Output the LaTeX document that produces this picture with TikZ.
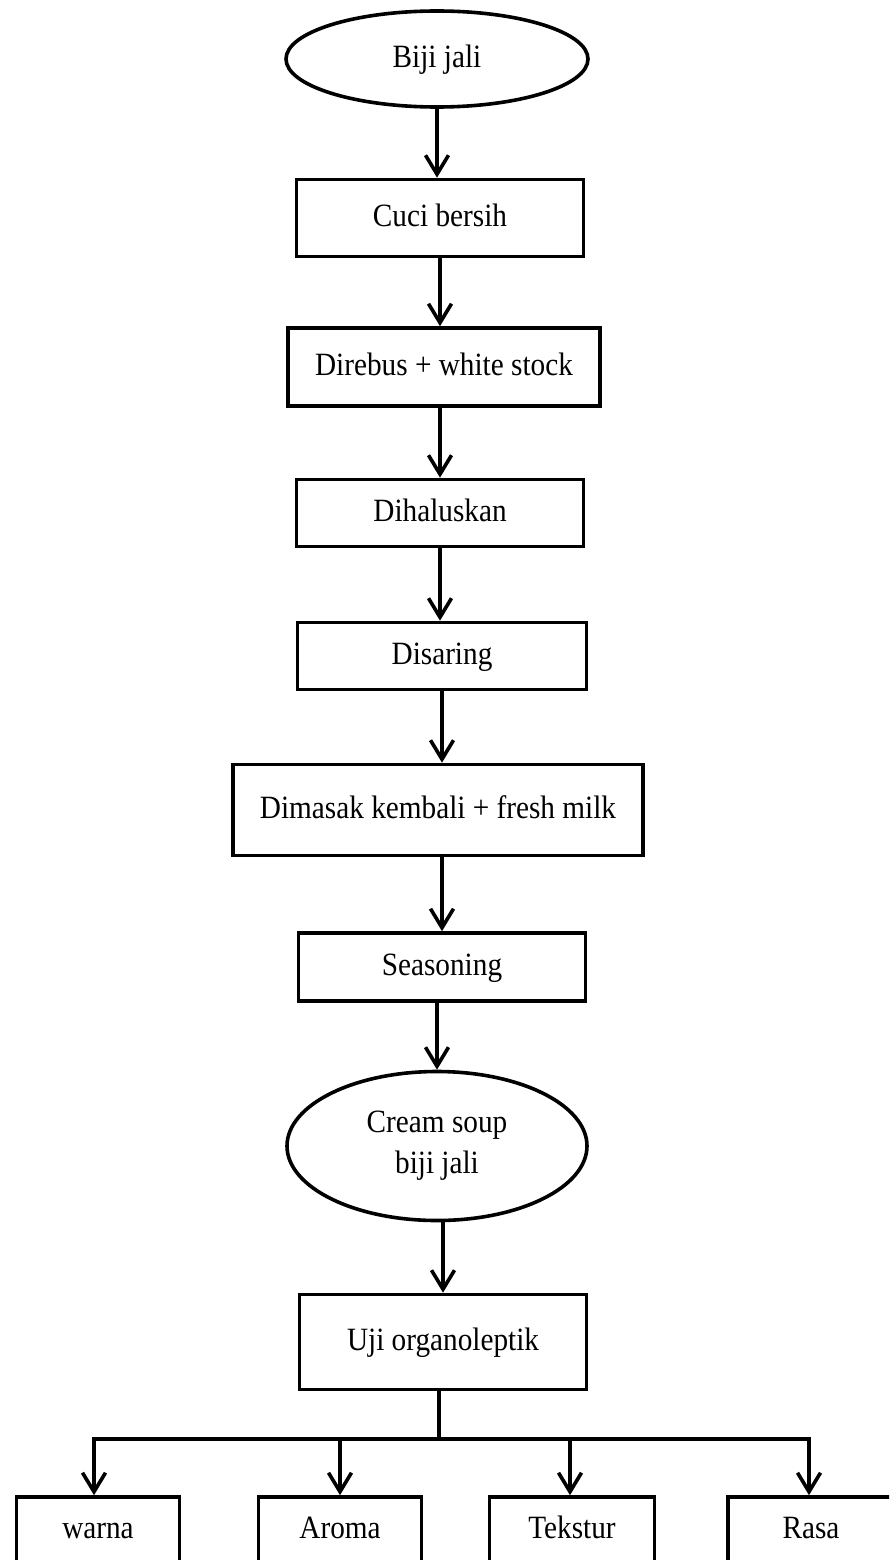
\documentclass[tikz,border=0pt]{standalone}
\usepackage{fontspec}
\setmainfont[FakeStretch=0.9]{Liberation Serif}
\usetikzlibrary{shapes.geometric,arrows.meta}
\begin{document}
\begin{tikzpicture}[x=1pt,y=-1pt,
  every node/.style={font=\fontsize{32.5}{41}\selectfont},
  one/.style={text height=23.4pt,text depth=7.2pt},
  boxn/.style={draw,line width=3.6pt,rectangle,inner sep=0pt,align=center,one},
  elln/.style={draw,line width=3.6pt,ellipse,inner sep=0pt,align=center},
  conn/.style={line width=3.6pt},
  arr/.style={line width=3.6pt,-{Straight Barb[length=19pt,width=23pt]}}]
\clip (0,0) rectangle (889,1560);
\node[elln,one,minimum width=302pt,minimum height=96pt] (e1) at (437,59) {Biji jali};
\node[boxn,minimum width=287pt,minimum height=77pt] (b1) at (440,218) {Cuci bersih};
\node[boxn,minimum width=312pt,minimum height=78pt] (b2) at (444,367) {Direbus + white stock};
\node[boxn,minimum width=287pt,minimum height=67pt] (b3) at (440,513) {Dihaluskan};
\node[boxn,minimum width=289pt,minimum height=67pt] (b4) at (442,656) {Disaring};
\node[boxn,minimum width=410pt,minimum height=91pt] (b5) at (438,810) {Dimasak kembali + fresh milk};
\node[boxn,minimum width=287pt,minimum height=68pt] (b6) at (442,967) {Seasoning};
\node[elln,minimum width=300pt,minimum height=149pt] (e2) at (437,1146) {Cream soup\\biji jali};
\node[boxn,minimum width=287pt,minimum height=95pt] (b7) at (443,1342) {Uji organoleptik};
\node[boxn,minimum width=163pt,minimum height=66pt] (c1) at (98,1530) {warna};
\node[boxn,minimum width=163pt,minimum height=66pt] (c2) at (340,1530) {Aroma};
\node[boxn,minimum width=165pt,minimum height=66pt] (c3) at (572,1530) {Tekstur};
\node[boxn,minimum width=166pt,minimum height=66pt] (c4) at (811,1530) {Rasa};

\draw[arr] (e1.south) -- (e1.south |- b1.north);
\draw[arr] (b1.south) -- (b1.south |- b2.north);
\draw[arr] (b3.north |- b2.south) -- (b3.north);
\draw[arr] (b3.south) -- (b3.south |- b4.north);
\draw[arr] (b4.south) -- (b4.south |- b5.north);
\draw[arr] (b6.north |- b5.south) -- (b6.north);
\draw[arr] (e2.north |- b6.south) -- (e2.north);
\draw[arr] (b7.north |- e2.south) -- (b7.north);

\coordinate (h1) at (94,1439);
\coordinate (h2) at (340,1439);
\coordinate (h3) at (570,1439);
\coordinate (h4) at (809,1439);
\draw[conn] (b7.south -| 439,0) -- (439,1439);
\draw[conn,line cap=rect] (h1) -- (h4);
\draw[arr] (h1) -- (h1 |- c1.north);
\draw[arr] (h2) -- (h2 |- c2.north);
\draw[arr] (h3) -- (h3 |- c3.north);
\draw[arr] (h4) -- (h4 |- c4.north);
\end{tikzpicture}
\end{document}
